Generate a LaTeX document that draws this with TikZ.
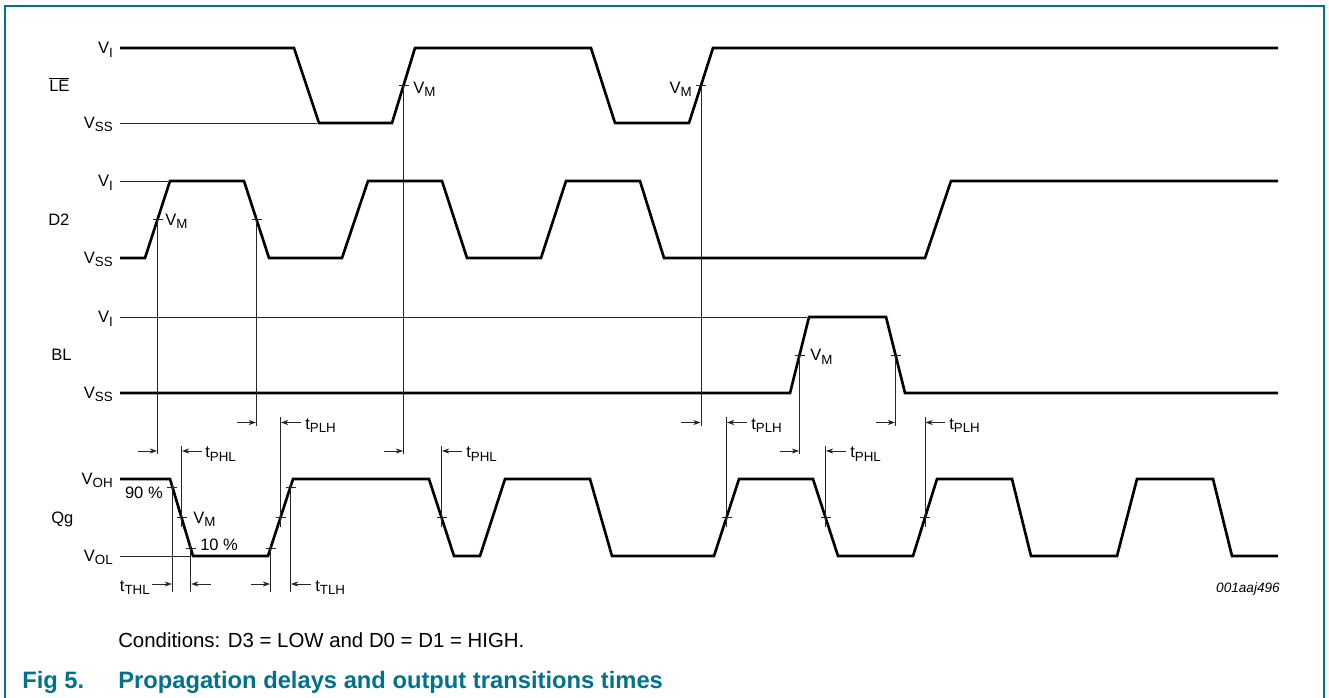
\documentclass[tikz,border=0pt]{standalone}
\usepackage{fontspec}
\setmainfont{Liberation Sans}
\usetikzlibrary{arrows.meta}
\definecolor{nxpteal}{RGB}{0,114,142}
\newcommand\sbs[1]{\raisebox{-2.3pt}{\fontsize{10}{10}\selectfont #1}}
\newcommand\tickat[2]{\draw[refl] (#1-5,#2) -- (#1+5,#2);}
\newcommand\mkR[2]{\draw[mk] (#1-20,#2) -- (#1-0.4,#2);}
\newcommand\mkL[2]{\draw[mk] (#1+20,#2) -- (#1+0.4,#2);}
\begin{document}
\begin{tikzpicture}[x=0.75pt,y=-0.75pt,
  wave/.style={line width=2pt,line join=miter,black},
  refl/.style={line width=0.6pt,black!85},
  mk/.style={line width=0.6pt,black!85,-{Stealth[length=5.5pt,width=3.8pt]}},
  lab/.style={font=\fontsize{12.4}{14}\selectfont,inner sep=0pt},
  sig/.style={font=\fontsize{12.4}{14}\selectfont,inner sep=0pt,anchor=base west},
  capt/.style={inner sep=0pt,anchor=base west,font=\fontsize{17.8}{20}\selectfont\bfseries,text=nxpteal},
  frame/.style={line width=1.4pt,nxpteal}]
\useasboundingbox (0,0) rectangle (1329,698);
% frame
\draw[frame] (5,698) -- (5,6) -- (1324,6) -- (1324,698);

% ---------- LE ----------
\node[sig] (nLE) at (49,92) {$\overline{\mbox{LE}}$};
\node[lab,anchor=base east] (leVI) at (113,54) {V\sbs{I}};
\node[lab,anchor=base east] (leVSS) at (113,128.5) {V\sbs{SS}};
\draw[refl] (120,123) -- (317,123);
\draw[wave] (120,48) -- (294,48) -- (319,123) -- (392,123) -- (415,48) -- (591,48)
  -- (615,123) -- (689,123) -- (713,48) -- (1278,48);
\tickat{403.5}{85.5}
\tickat{701}{85.5}
\node[lab,anchor=base west] (leVM1) at (413,93.5) {V\sbs{M}};
\node[lab,anchor=base east] (leVM2) at (692,93.5) {V\sbs{M}};

% ---------- D2 ----------
\node[sig] (nD2) at (48,226) {D2};
\node[lab,anchor=base east] (d2VI) at (113,187) {V\sbs{I}};
\node[lab,anchor=base east] (d2VSS) at (113,263.5) {V\sbs{SS}};
\draw[refl] (120,181) -- (168,181);
\draw[wave] (120,258) -- (145,258) -- (170,181) -- (244,181) -- (269,258) -- (342,258)
  -- (368,181) -- (442,181) -- (467,258) -- (541,258) -- (566,181) -- (640,181)
  -- (664,258) -- (925,258) -- (951,181) -- (1278,181);
\tickat{157.5}{219.5}
\tickat{256.5}{219.5}
\node[lab,anchor=base west] (d2VM) at (165,225.5) {V\sbs{M}};

% ---------- BL ----------
\node[sig] (nBL) at (51,361) {BL};
\node[lab,anchor=base east] (blVI) at (113,323) {V\sbs{I}};
\node[lab,anchor=base east] (blVSS) at (113,398.5) {V\sbs{SS}};
\draw[refl] (120,317) -- (807,317);
\draw[wave] (120,393) -- (790,393) -- (809,317) -- (886,317) -- (905,393) -- (1278,393);
\tickat{799.5}{355}
\tickat{895.5}{355}
\node[lab,anchor=base west] (blVM) at (810,361) {V\sbs{M}};

% ---------- Qg ----------
\node[sig] (nQg) at (51,524) {Qg};
\node[lab,anchor=base east] (qVOH) at (113,484.5) {V\sbs{OH}};
\node[lab,anchor=base east] (qVOL) at (113,561.5) {V\sbs{OL}};
\draw[refl] (120,556) -- (191,556);
\draw[wave] (120,479) -- (170,479) -- (193,556) -- (268,556) -- (293,479) -- (429,479)
  -- (454,556) -- (480,556) -- (505,479) -- (590,479) -- (612,556) -- (714,556)
  -- (739,479) -- (813,479) -- (838,556) -- (913,556) -- (937,479) -- (1012,479)
  -- (1031,556) -- (1117,556) -- (1137,479) -- (1213,479) -- (1232,556) -- (1278,556);
\tickat{172.3}{487}
\tickat{181.5}{517.5}
\tickat{190.7}{548}
\tickat{270.5}{548}
\tickat{280.5}{517.5}
\tickat{290.5}{487}
\tickat{441.5}{517.5}
\tickat{726.5}{517.5}
\tickat{825.5}{517.5}
\tickat{925}{517.5}
\node[lab,anchor=base east] (p90) at (163,499) {90 \%};
\node[lab,anchor=base west] (qVM) at (193,523.5) {V\sbs{M}};
\node[lab,anchor=base west] (p10) at (200,550.5) {10 \%};

% ---------- projection lines ----------
\draw[refl] (403.5,85.5) -- (403.5,454);
\draw[refl] (701,85.5) -- (701,426);
\draw[refl] (157.5,219.5) -- (157.5,454);
\draw[refl] (256.5,219.5) -- (256.5,426);
\draw[refl] (799.5,355) -- (799.5,454);
\draw[refl] (895.5,355) -- (895.5,426);
\draw[refl] (181.5,446) -- (181.5,527);
\draw[refl] (280.5,417) -- (280.5,527);
\draw[refl] (441.5,446) -- (441.5,527);
\draw[refl] (726.5,417) -- (726.5,527);
\draw[refl] (825.5,446) -- (825.5,527);
\draw[refl] (925,417) -- (925,527);
\draw[refl] (172.3,483) -- (172.3,592);
\draw[refl] (190.7,544) -- (190.7,592);
\draw[refl] (270.5,544) -- (270.5,592);
\draw[refl] (290.5,483) -- (290.5,592);

% ---------- delay markers ----------
\mkR{256.5}{422.5}
\mkL{280.5}{422.5}
\node[lab,anchor=base west] (tplh1) at (305,429.5) {t\sbs{PLH}};
\mkR{701}{422.5}
\mkL{726.5}{422.5}
\node[lab,anchor=base west] (tplh2) at (751,429.5) {t\sbs{PLH}};
\mkR{895.5}{422.5}
\mkL{925}{422.5}
\node[lab,anchor=base west] (tplh3) at (949,429.5) {t\sbs{PLH}};

\mkR{157.5}{451}
\mkL{181.5}{451}
\node[lab,anchor=base west] (tphl1) at (205,458) {t\sbs{PHL}};
\mkR{403.5}{451}
\mkL{441.5}{451}
\node[lab,anchor=base west] (tphl2) at (466,458) {t\sbs{PHL}};
\mkR{799.5}{451}
\mkL{825.5}{451}
\node[lab,anchor=base west] (tphl3) at (850,458) {t\sbs{PHL}};

\mkR{172.3}{584}
\mkL{190.7}{584}
\mkR{270.5}{584}
\mkL{290.5}{584}
\node[lab,anchor=base east] (tthl) at (150,591) {t\sbs{THL}};
\node[lab,anchor=base west] (ttlh) at (315,591) {t\sbs{TLH}};

% ---------- texts ----------
\node[inner sep=0pt,anchor=base east,font=\fontsize{10.2}{12}\selectfont\itshape] (code) at (1280,593) {001aaj496};
\node[inner sep=0pt,anchor=base west,font=\fontsize{15.3}{18}\selectfont] (cond) at (118,647) {Conditions: D3 = LOW and D0 = D1 = HIGH.};
\node[capt] (fig) at (22,688) {Fig 5.};
\node[capt] (title) at (118,688) {Propagation delays and output transitions times};
\end{tikzpicture}
\end{document}
